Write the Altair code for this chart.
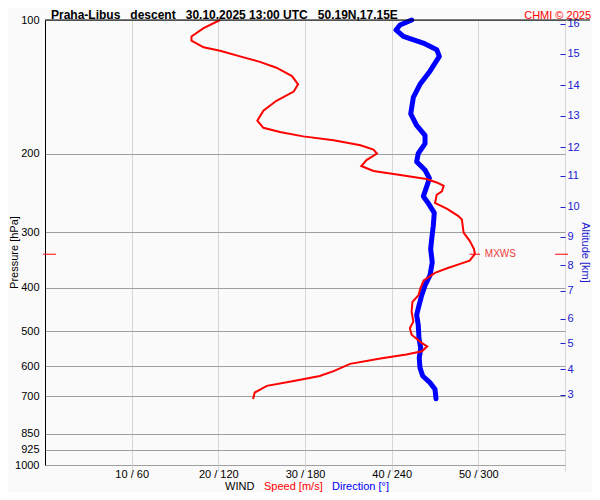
import altair as alt
import pandas as pd

FONT = "Liberation Sans"
RED = "#ff0000"
BLUE = "#0000ff"
BLUE_TXT = "#2020d0"

# ---- data ----
# wind speed profile: pressure [hPa] / speed [m/s]
speed_p = [100, 104.3, 108.9, 111.3, 115.2, 117.2, 120.7, 124.2, 128.0, 133.7,
           139.5, 144.8, 151.9, 159.9, 168.3, 174.7, 178.6, 182.6, 186.4, 191.2,
           195.5, 199.5, 206.5, 212.9, 218.4, 223.0, 227.6, 231.8, 235.9, 242.7,
           247.0, 257.7, 265.7, 275.9, 280.7, 300.5, 313.5, 327.3, 335.7, 347.3,
           353.3, 361.2, 370.0, 384.7, 401.6, 415.4, 429.9, 452.4, 476.2, 492.7,
           509.7, 532.1, 541.2, 555.2, 564.7, 576.4, 592.5, 615.1, 631.0, 647.3,
           664.0, 687.2, 710.8]
speed_ms = [20.2, 18.3, 16.9, 16.9, 18.3, 20.2, 22.5, 24.8, 26.7, 28.5,
            29.2, 28.7, 26.7, 25.2, 24.5, 25.2, 27.1, 29.8, 33.3, 36.4,
            37.9, 38.3, 37.1, 36.5, 37.9, 41.0, 44.0, 45.2, 46.0, 45.8,
            45.2, 45.0, 46.4, 47.7, 48.1, 48.3, 49.0, 49.5, 49.6, 49.0,
            47.9, 46.4, 45.0, 43.7, 43.3, 43.1, 42.4, 42.3, 42.5, 42.1,
            42.3, 43.5, 44.1, 43.5, 41.7, 38.7, 35.2, 33.3, 31.7, 28.7,
            25.6, 24.2, 24.0]

# wind direction profile: pressure [hPa] / direction [deg]
dir_p = [100, 102.6, 105.3, 108.9, 112.7, 116.6, 120.7, 130.3, 139.5, 149.3,
         162.6, 172.6, 181.7, 189.6, 199.5, 208.2, 217.3, 226.8, 236.6, 249.0,
         257.7, 271.3, 290.3, 311.0, 327.3, 350.4, 375.0, 394.7, 415.4, 444.8,
         460.1, 484.2, 518.7, 545.9, 574.5, 604.8, 631.0, 652.9, 675.4, 710.0]
dir_deg = [253.9, 245.8, 243.0, 248.1, 261.9, 271.2, 273.0, 266.5, 259.6, 255.0,
           253.2, 257.3, 263.1, 263.1, 258.4, 257.3, 263.1, 266.1, 264.3, 261.9,
           265.2, 269.5, 268.8, 267.7, 267.0, 268.1, 266.5, 263.1, 260.8, 258.4,
           257.3, 258.4, 258.9, 260.1, 259.1, 259.6, 261.5, 266.5, 270.0, 270.7]

# altitude axis: km and matching pressure level
alt_km = [3, 4, 5, 6, 7, 8, 9, 10, 11, 12, 13, 14, 15, 16]
alt_p = [695, 609, 533, 469, 406, 356, 307, 263, 224, 193, 164, 140, 119, 102]

p_ticks = [100, 200, 300, 400, 500, 600, 700, 850, 925, 1000]
wind_ticks = [10, 20, 30, 40, 50, 60]

mxws_p = [336]
mxws_speed = [49.6]

title_text = "Praha-Libus\u00a0\u00a0\u00a0descent\u00a0\u00a0\u00a030.10.2025 13:00 UTC\u00a0\u00a0\u00a050.19N,17.15E"

# ---- build ----
W, H = 520, 445

speed_df = pd.DataFrame({"p": speed_p, "speed": speed_ms, "i": list(range(len(speed_p)))})
dir_df = pd.DataFrame({"p": dir_p, "dir": dir_deg, "i": list(range(len(dir_p)))})
mx_df = pd.DataFrame({"p": mxws_p, "speed": mxws_speed})
one = pd.DataFrame({"a": [0]})

yscale = alt.Scale(type="log", domain=[100, 1000], reverse=True, nice=False)
xscale = alt.Scale(domain=[0, 60], nice=False, zero=False)

label_expr_alt = ("[" + ",".join(f"'{k}'" for k in alt_km) + "][indexof(["
                  + ",".join(repr(p) for p in alt_p) + "], datum.value)]")

y_left = alt.Axis(values=p_ticks, format="d", grid=True, gridColor="#a0a0a0",
                  gridWidth=1, gridOpacity=1, ticks=False, domain=True,
                  domainColor="black", domainWidth=1, labelPadding=6,
                  labelFontSize=11, labelColor="black", labelFont=FONT,
                  labelOverlap=False, title="Pressure [hPa]", titleFont=FONT,
                  titleFontSize=11, titleFontWeight="normal", titleColor="black",
                  titleX=-37, titleY=232, titleBaseline="top", titleAngle=270,
                  titleAlign="center")

y_right = alt.Axis(orient="right", values=alt_p, labelExpr=label_expr_alt,
                   offset=-5, ticks=True, tickSize=5, tickColor=BLUE_TXT,
                   tickWidth=1, domain=False, grid=False, labelPadding=2,
                   labelColor=BLUE_TXT, labelFontSize=11, labelFont=FONT,
                   labelOverlap=False, title="Altitude [km]", titleFont=FONT,
                   titleFontSize=11, titleFontWeight="normal", titleColor=BLUE_TXT,
                   titleX=21, titleY=232, titleAngle=90, titleBaseline="alphabetic",
                   titleAlign="center")

x_axis = alt.Axis(values=wind_ticks,
                  labelExpr="datum.value == 60 ? '' : datum.value + ' / ' + datum.value * 6",
                  grid=True, gridColor="#d6d6d6", gridOpacity=1, ticks=True,
                  tickColor="#d6d6d6", tickSize=6, domain=False, labelPadding=-3,
                  labelFontSize=11, labelFont=FONT, labelColor="black",
                  labelFlush=False, labelOverlap=False, title="")

blue_line = alt.Chart(dir_df).transform_calculate(
    xs="datum.dir / 6"
).mark_line(color=BLUE, strokeWidth=5, strokeCap="round", strokeJoin="round").encode(
    x=alt.X("xs:Q", scale=xscale, axis=None),
    y=alt.Y("p:Q", scale=yscale, axis=y_right),
    order="i:Q",
)

red_line = alt.Chart(speed_df).mark_line(color=RED, strokeWidth=2).encode(
    x=alt.X("speed:Q", scale=xscale, axis=x_axis),
    y=alt.Y("p:Q", scale=yscale, axis=y_left),
    order="i:Q",
)

mx_tick = alt.Chart(mx_df).transform_calculate(
    x1="datum.speed - 0.6", x2="datum.speed + 0.6"
).mark_rule(color=RED, strokeWidth=1).encode(
    x=alt.X("x1:Q", scale=xscale, axis=None),
    x2="x2:Q",
    y=alt.Y("p:Q", scale=yscale, axis=None),
)
mx_left = alt.Chart(mx_df).mark_rule(color=RED, strokeWidth=1).encode(
    x=alt.value(-2), x2=alt.value(11),
    y=alt.Y("p:Q", scale=yscale, axis=None),
)
mx_right = alt.Chart(mx_df).mark_rule(color=RED, strokeWidth=1).encode(
    x=alt.value(510), x2=alt.value(523),
    y=alt.Y("p:Q", scale=yscale, axis=None),
)
mx_text = alt.Chart(mx_df).mark_text(
    text="MXWS", color="#f03c3c", fontSize=10, font=FONT, align="left",
    baseline="middle", dx=10
).encode(
    x=alt.X("speed:Q", scale=xscale, axis=None),
    y=alt.Y("p:Q", scale=yscale, axis=None),
)

top_rule = alt.Chart(one).mark_rule(color="black", strokeWidth=1).encode(
    x=alt.value(0), x2=alt.value(545), y=alt.value(0)
)


def label(text, x, y, color="black", size=11, weight="normal", align="left"):
    return alt.Chart(one).mark_text(
        text=text, color=color, fontSize=size, fontWeight=weight, font=FONT,
        align=align, baseline="alphabetic"
    ).encode(x=alt.value(x), y=alt.value(y))


title = label(title_text, 6, -1, size=12, weight="bold")
chmi = label("CHMI \u00a9 2025", 546, -1.5, color=RED, size=11, align="right")
wind = label("WIND", 180, 469.5)
spd = label("Speed [m/s]", 219, 469.5, color=RED)
drn = label("Direction [\u00b0]", 287, 469.5, color=BLUE)

chart = alt.layer(
    blue_line, red_line, mx_tick, mx_left, mx_right, mx_text, top_rule,
    title, chmi, wind, spd, drn
).resolve_axis(
    x="independent", y="independent"
).properties(
    width=W, height=H,
    autosize=alt.AutoSizeParams(type="none"),
    padding={"left": 37, "top": 12, "right": 27, "bottom": 27},
    background="#fafafa",
).configure_view(
    fill="#f0f0ff", strokeWidth=0
).configure(font=FONT)

chart.save("out.html", embed_options={"renderer": "svg", "actions": False})
